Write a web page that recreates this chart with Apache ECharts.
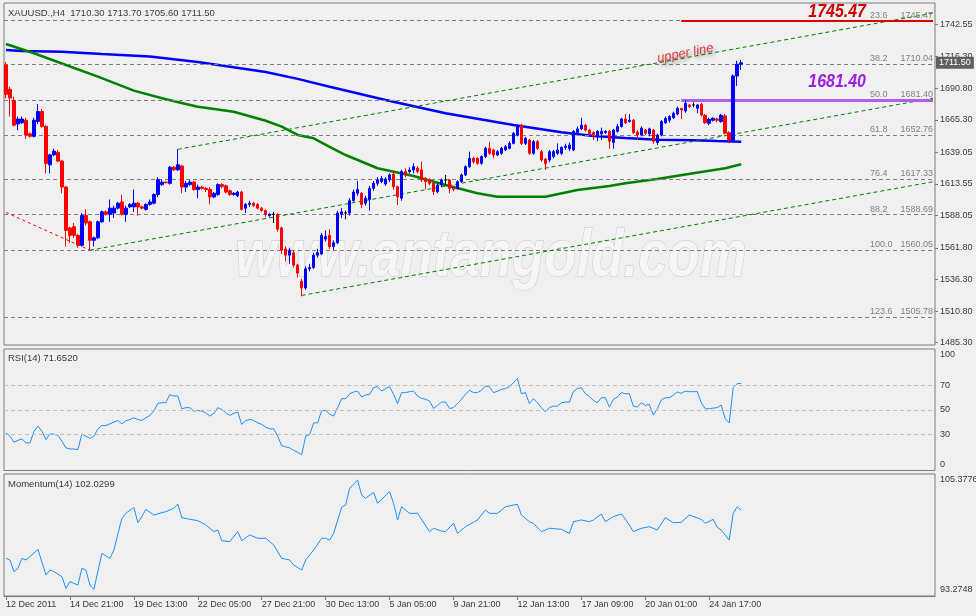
<!DOCTYPE html>
<html><head><meta charset="utf-8">
<script src="https://cdn.jsdelivr.net/npm/echarts@6/dist/echarts.min.js"></script>
<style>html,body{margin:0;padding:0;background:#f0f0f0;}#c{width:976px;height:616px;}</style>
</head><body><div id="c"></div>
<script>
// ---------- data ----------
const tickLabels = ['12 Dec 2011','14 Dec 21:00','19 Dec 13:00','22 Dec 05:00','27 Dec 21:00','30 Dec 13:00','5 Jan 05:00','9 Jan 21:00','12 Jan 13:00','17 Jan 09:00','20 Jan 01:00','24 Jan 17:00'];
const barsPerTick = 16;
const slotCount = 233; // H4 slots visible on the time axis (bars + empty right margin)

const opens = [1709.6,1690,1681,1662,1663,1665,1654,1652,1664,1672,1660,1629,1637,1639,1632,1611,1578,1579,1572,1564,1588,1583,1568,1570,1583,1591,1589,1590,1594,1599,1589,1595,1595,1598,1595,1593,1597,1598,1605,1613,1615,1614,1627,1625,1628,1611,1613,1615,1609,1611,1610,1609,1603,1605,1613,1612,1608,1605,1604,1607,1594,1597,1598,1597,1594,1592,1588,1589,1589,1578,1561,1556,1558,1548,1535,1529.5,1545,1546,1556,1557,1569,1572,1563,1566,1589,1590,1590,1600,1606,1606,1598,1601,1610,1614,1615.5,1613.5,1617,1621.5,1611.3,1602,1623.5,1623.4,1624.8,1626.2,1624.8,1618,1616.7,1614,1607.3,1612.7,1616.7,1616.7,1610.8,1610,1615.4,1620.8,1627.5,1634.2,1634.2,1630.2,1635.6,1642.3,1641,1636.9,1638.3,1641,1642.3,1646.3,1653,1661,1646.3,1649,1638.3,1647.7,1639.6,1633.5,1632.9,1635.6,1638.3,1638.3,1643,1642,1641,1655,1658,1661,1657,1655,1653,1654,1655,1656,1647,1656,1660,1666,1664,1665,1655.5,1653,1657,1654,1657,1647,1653,1663,1665,1667,1670,1674.6,1672.5,1677.3,1677.3,1674.6,1677.8,1669,1662.5,1665,1666,1664,1668.5,1655,1649,1700.7,1710.3];
const closes = [1686,1683,1661,1666,1666,1653,1652,1665,1672,1660,1630,1637,1640,1632,1611,1576,1572,1572,1564,1588,1582,1568,1570,1583,1591,1589,1594,1594,1598,1589,1594,1597,1598,1595,1594,1597,1599,1605,1617,1615,1614.5,1627,1625,1629,1611,1614,1615,1609,1611,1610,1609,1603,1606,1613,1611.5,1607,1605,1606,1607,1593,1597,1598,1596,1594,1592,1589,1589,1589,1577,1560,1556,1560,1548,1541.5,1529.5,1545,1546,1556,1558,1572,1571,1563,1566,1590,1591,1590,1600,1607,1609,1597,1602,1610,1614,1616.7,1618,1617.5,1620.8,1611.3,1603.2,1623.5,1620.8,1624.8,1627.5,1623.5,1616.7,1615.4,1614,1607.3,1612.7,1616.7,1616.7,1610,1609.2,1615.4,1620.8,1627.5,1634.2,1631.5,1630.2,1635.6,1642.3,1638.3,1636.9,1639.6,1642.3,1643.6,1646.3,1654.4,1659.8,1646.3,1650.4,1638.3,1647.7,1642.3,1632.9,1630,1639.6,1639.6,1641,1643,1644,1645,1656,1658,1661,1657,1654,1653,1656,1656,1656,1648,1657,1660,1666,1663,1665,1655,1653,1658.5,1654.5,1658,1648,1653,1664,1666.5,1668,1670.6,1674.6,1673.3,1678.7,1676,1677.3,1677.3,1669.2,1663,1665.7,1666.5,1665,1669,1654.5,1649,1700.7,1710.2,1711.5];
const lows = [1682.7,1668,1660,1657,1662,1650,1651,1651,1662,1659,1622,1622,1636,1631,1606,1563,1566,1570,1562,1563,1580,1560,1563,1569,1582,1588,1583,1586,1593,1588,1583,1594,1591,1588,1593,1592,1596,1597,1603,1612,1614,1613,1624,1624,1606,1607,1612,1608,1602,1609,1607,1597,1602,1604,1610,1606,1604,1604,1603,1592,1590,1595,1595,1593,1591,1587,1587,1582,1575,1557,1551,1549,1546,1538,1522.7,1528,1543,1545,1554,1556,1567,1561,1560,1565,1586,1585,1588,1599,1604,1594,1596,1592,1608,1612,1614,1612,1615,1609,1596.5,1600,1619,1622,1622,1622,1615,1609.2,1612.5,1604.6,1606,1611,1612.7,1606,1607.5,1609,1614.5,1620,1626.5,1630,1629,1629,1634.5,1637,1634.2,1636,1637,1640,1641.5,1645.5,1652,1645,1645,1637,1637,1641,1631.5,1624.8,1631,1634,1637,1637,1641,1640,1640,1654,1657,1656,1653,1649,1648,1649,1654,1642,1642,1655,1659,1662,1663,1654,1649,1652,1653,1652,1646,1645,1652,1662,1663,1666,1669,1666,1671,1675,1675.5,1670.6,1668,1662,1661,1664,1663.5,1663,1653.5,1646.5,1647.5,1692.7,1705.6];
const highs = [1712,1692,1684,1668,1668,1667,1655,1667,1678,1674,1661,1638,1642,1641,1633,1612,1579,1582,1573,1590,1593,1584,1571,1584,1592,1592,1601,1596,1599,1605,1596,1598,1609,1599,1596,1598,1601,1606,1619,1617,1615.5,1628,1628,1641.5,1629,1616,1617,1616,1613,1612,1611,1611,1607,1614,1614,1613,1609,1607,1608,1608,1598,1600,1599,1598,1595,1593,1590,1591,1590,1579,1563,1562,1560,1549,1537,1547,1549,1558,1561,1574,1576,1577,1568,1592,1594,1592,1602,1609,1616,1607,1604,1612,1616,1619,1620,1619,1622,1624,1612,1625,1626,1627,1630.2,1628,1631.5,1619,1618,1615,1614,1618,1620.8,1617.5,1612,1616.5,1622,1628.5,1639.6,1635.5,1635,1636.5,1643.5,1647.7,1642,1641,1643.5,1645,1648,1655.5,1661.2,1662,1651.5,1650,1649,1649,1641,1634.5,1641,1641,1646.3,1644,1646,1647,1657,1660,1667,1662,1658,1656,1657,1659,1657,1657,1658,1662,1667,1670,1670,1666,1657,1660,1658,1659,1658,1654,1665,1668,1669,1672,1676,1675,1681.3,1678,1679.5,1678,1679,1670,1667,1667.5,1667,1670,1670,1656,1702,1713,1713.7];

const maBlue = [[0,1721.7],[4,1720.9],[14,1720.4],[24,1718.5],[36,1716.5],[48,1712.0],[65,1704.0],[73,1698.4],[81,1692.1],[95,1681.4],[110,1670.6],[127,1661.2],[139,1655.2],[147,1652.3],[155,1650.6],[163,1649.3],[172,1648.8],[178,1648.2],[184,1647.7]];
const maGreen = [[0,1726.6],[7,1719.1],[15,1709.6],[23,1700.2],[32,1688.9],[40,1681.9],[48,1675.9],[57,1671.9],[65,1664.6],[69,1659.8],[73,1653.1],[77,1650.4],[81,1643.5],[85,1636.9],[93,1626.2],[102,1620.0],[110,1612.7],[118,1606.0],[123,1603.2],[135,1603.2],[143,1608.6],[151,1611.9],[155,1614.1],[163,1617.5],[172,1622.1],[180,1626.2],[184,1629.4]];

const rsi = [31.0,28.2,23.2,24.9,26.0,22.7,22.7,32.3,36.5,32.3,25.4,30.1,29.9,29.0,24.1,18.6,17.7,17.7,17.2,30.1,28.2,26.3,28.2,34.3,37.0,37.0,38.4,39.8,41.2,38.4,40.9,42.0,43.4,42.0,41.2,43.4,45.3,48.9,55.2,55.8,55.8,62.4,61.3,61.3,50.8,51.7,51.7,48.9,49.4,48.9,47.5,44.8,47.0,51.7,50.3,47.5,45.3,47.0,48.1,37.9,41.2,42.0,41.2,39.2,37.9,35.7,34.3,34.3,28.2,20.5,19.4,18.6,16.6,15.0,13.0,28.2,29.6,39.2,39.2,49.3,49.4,46.4,44.8,51.7,59.1,59.1,63.2,64.6,65.4,60.5,62.1,62.7,68.2,69.0,65.4,67.4,69.0,62.7,55.0,64.1,64.1,64.9,65.4,61.3,59.4,58.6,57.2,51.1,53.6,56.3,56.3,51.1,51.7,55.2,58.6,62.7,66.0,64.1,64.1,66.0,69.6,68.8,64.1,65.2,66.8,67.4,69.0,72.3,75.7,63.2,64.1,55.0,59.1,55.8,51.7,48.3,51.7,53.0,53.0,55.8,56.3,56.3,64.9,67.4,68.2,63.2,60.8,57.7,55.8,59.9,59.9,52.2,58.6,60.5,64.1,63.2,63.2,53.0,52.2,55.8,53.6,54.4,45.6,50.8,58.0,59.9,59.9,61.9,64.6,63.5,65.4,64.9,64.9,64.9,55.8,50.8,50.8,51.4,51.7,53.9,42.6,39.2,68.2,71.5,71.652];

const momentum = [[0,96.70],[1,96.52],[2,95.23],[3,95.60],[4,96.70],[5,96.52],[6,96.89],[8,97.70],[10,94.86],[11,95.41],[12,95.23],[14,94.67],[15,93.38],[16,94.12],[18,93.75],[19,95.60],[20,95.41],[21,93.75],[22,93.27],[24,97.26],[26,96.70],[27,97.63],[29,101.13],[30,101.69],[32,102.35],[33,100.65],[34,101.32],[35,102.13],[37,101.50],[39,101.76],[40,101.87],[42,102.24],[43,102.72],[44,101.21],[46,101.02],[48,100.88],[50,100.40],[52,99.66],[53,99.84],[54,98.66],[56,98.55],[58,99.66],[59,98.66],[61,99.29],[63,98.92],[65,98.92],[67,98.18],[69,96.70],[71,96.52],[72,95.97],[74,95.41],[75,96.52],[77,97.63],[79,98.92],[80,98.92],[81,98.73],[82,99.47],[84,102.35],[85,102.61],[86,104.45],[88,105.38],[89,103.72],[90,103.35],[92,104.01],[93,102.79],[96,104.09],[97,102.79],[98,100.95],[99,102.42],[101,101.69],[103,101.69],[106,99.66],[107,100.03],[109,99.73],[110,99.66],[112,100.58],[113,99.47],[115,100.21],[118,100.95],[120,102.06],[121,101.69],[123,101.69],[125,102.42],[127,102.61],[128,102.68],[129,101.50],[131,100.76],[132,100.58],[134,99.66],[136,100.03],[139,99.92],[141,99.47],[142,100.76],[144,100.95],[146,100.76],[147,100.95],[149,101.61],[150,100.76],[152,101.32],[154,101.61],[156,100.40],[157,99.66],[159,100.03],[161,100.21],[163,99.84],[165,101.21],[167,100.65],[169,100.69],[171,101.50],[174,101.02],[175,100.58],[177,101.02],[178,100.14],[179,99.84],[181,98.73],[182,101.69],[183,102.42],[184,102.03]];

const priceTicks = [1485.30,1510.80,1536.30,1561.80,1588.05,1613.55,1639.05,1665.30,1690.80,1716.30,1742.55];
const rsiTicks = [0,30,50,70,100];
const rsiLevels = [30,50,70];
const momTicks = [93.2748,105.3776];
const fibPct = ['23.6','38.2','50.0','61.8','76.4','88.2','100.0','123.6'];
const fibVal = [1745.47,1710.04,1681.40,1652.76,1617.33,1588.69,1560.05,1505.78];
const channelLines = [[43,1641.5,232,1751.5],[21,1560.0,232,1682.8],[74,1523.5,232,1615.3]];
const fibTrend = [0,1590.5,21,1560.0];
const redLevel = [169,232,1745.47];
const purpleLevel = [169,232,1681.40];
const levelLabelBar = 208;
const upperLineNote = {text: 'upper line', bar: 170, price: 1719.0};
const lastPrice = 1711.50;
const header = 'XAUUSD.,H4  1710.30 1713.70 1705.60 1711.50';
const rsiTitle = 'RSI(14) 71.6520';
const momTitle = 'Momentum(14) 102.0299';

// ---------- chart ----------
const cats = Array.from({length: slotCount}, (_, i) => String(i));
const candles = opens.map((o, i) => [o, closes[i], lows[i], highs[i]]);
const FONT = 'Liberation Sans';
const axisTxt = {fontFamily: FONT, fontSize: 9, color: '#3a3a3a'};
const border = '#7a7a7a';

function gridCfg(top, height) {
  return {left: 4, top: top, width: 931, height: height, show: true, borderColor: border, borderWidth: 1,
          backgroundColor: 'transparent', containLabel: false, outerBoundsMode: 'none'};
}
function xCfg(g, showLabels) {
  return {type: 'category', gridIndex: g, data: cats, boundaryGap: true,
    axisLine: {show: showLabels, lineStyle: {color: border}},
    axisTick: {show: showLabels, length: 4, alignWithLabel: true, lineStyle: {color: border},
               interval: (idx) => idx % barsPerTick === 0 && idx / barsPerTick < tickLabels.length},
    axisLabel: {show: showLabels, interval: barsPerTick - 1, align: 'left', margin: 4, ...axisTxt,
                formatter: (v, idx) => tickLabels[idx / barsPerTick] || ''},
    splitLine: {show: false}};
}

const fibMarks = fibVal.map((v, k) => ({
  yAxis: v,
  lineStyle: {color: '#808080', type: [4, 3], width: 1},
  label: {show: true, position: 'insideEndTop', distance: [2, 1],
          formatter: () => '{p|' + fibPct[k] + '}{v|' + v.toFixed(2) + '}',
          rich: {p: {width: 25, align: 'left', ...axisTxt, color: '#808080'},
                 v: {width: 38, align: 'right', ...axisTxt, color: '#808080'}}}
}));
const channelMarks = channelLines.map(l => [
  {coord: [l[0], l[1]], lineStyle: {color: '#008000', type: [4, 3], width: 1}},
  {coord: [l[2], l[3]]}
]);

const option = {
  animation: false,
  backgroundColor: '#f0f0f0',
  grid: [gridCfg(3, 342), gridCfg(349, 121.5), gridCfg(474, 122)],
  xAxis: [xCfg(0, false), xCfg(1, false), xCfg(2, true)],
  yAxis: [
    {type: 'value', gridIndex: 0, position: 'right', min: 1483.44, max: 1759.69,
     axisLine: {show: false}, splitLine: {show: false},
     axisTick: {show: true, length: 3, customValues: priceTicks, lineStyle: {color: border}},
     axisLabel: {customValues: priceTicks, formatter: v => v.toFixed(2), margin: 5, ...axisTxt}},
    {type: 'value', gridIndex: 1, position: 'right', min: 0, max: 100,
     axisLine: {show: false}, splitLine: {show: false}, axisTick: {show: false},
     axisLabel: {customValues: rsiTicks, margin: 5, ...axisTxt,
       formatter: v => v === 100 ? '{t|100}' : (v === 0 ? '{b|0}' : String(v)),
       rich: {t: {padding: [12, 0, 0, 0], ...axisTxt}, b: {padding: [0, 0, 12, 0], ...axisTxt}}}},
    {type: 'value', gridIndex: 2, position: 'right', min: 92.533, max: 106.042,
     axisLine: {show: false}, splitLine: {show: false}, axisTick: {show: false},
     axisLabel: {customValues: momTicks, formatter: v => v.toFixed(4), margin: 5, ...axisTxt}}
  ],
  graphic: [
    {type: 'text', z: 0, silent: true, x: 491, y: 258, scaleX: 0.8,
     style: {text: 'www.antangold.com', x: 0, y: 0, textAlign: 'center', textVerticalAlign: 'middle',
      font: 'italic bold 66px "Liberation Sans"', fill: '#f6f6f6', stroke: '#c4c4c4', lineWidth: 1,
      shadowBlur: 6, shadowColor: 'rgba(0,0,0,0.65)', shadowOffsetX: 4, shadowOffsetY: 5}},
    {type: 'text', z: 10, style: {text: header, x: 8, y: 13, textVerticalAlign: 'middle', font: '9.5px "Liberation Sans"', fill: '#3a3a3a'}},
    {type: 'text', z: 10, style: {text: rsiTitle, x: 8, y: 358, textVerticalAlign: 'middle', font: '9.5px "Liberation Sans"', fill: '#3a3a3a'}},
    {type: 'text', z: 10, style: {text: momTitle, x: 8, y: 484, textVerticalAlign: 'middle', font: '9.5px "Liberation Sans"', fill: '#3a3a3a'}}
  ],
  series: [
    {type: 'candlestick', xAxisIndex: 0, yAxisIndex: 0, data: candles, barWidth: 3, z: 5,
     itemStyle: {color: '#0000ff', color0: '#ff0000', borderColor: '#0000ff', borderColor0: '#ff0000', borderColorDoji: '#000000', borderWidth: 1}},
    {type: 'line', xAxisIndex: 0, yAxisIndex: 0, data: maBlue, showSymbol: false, z: 4,
     lineStyle: {color: '#0000ff', width: 2.5}},
    {type: 'line', xAxisIndex: 0, yAxisIndex: 0, data: maGreen, showSymbol: false, z: 4,
     lineStyle: {color: '#008000', width: 2.5}},
    {type: 'line', xAxisIndex: 0, yAxisIndex: 0, data: [], clip: false, z: 6,
     markLine: {silent: true, symbol: ['none', 'none'], label: {show: false},
       data: [
         ...fibMarks,
         ...channelMarks,
         [{coord: [fibTrend[0], fibTrend[1]], lineStyle: {color: '#ff0000', type: [3, 3], width: 1}}, {coord: [fibTrend[2], fibTrend[3]]}],
         [{coord: [redLevel[0], redLevel[2]], lineStyle: {color: '#dd0000', type: 'solid', width: 2}}, {coord: [redLevel[1], redLevel[2]]}],
         [{coord: [purpleLevel[0], purpleLevel[2]], lineStyle: {color: '#b35cf0', type: 'solid', width: 3}}, {coord: [purpleLevel[1], purpleLevel[2]]}],
         {yAxis: lastPrice, lineStyle: {color: 'rgba(0,0,0,0)', width: 1},
          label: {show: true, position: 'end', distance: 1, formatter: () => lastPrice.toFixed(2),
                  backgroundColor: '#606060', color: '#ffffff', padding: [2, 3, 1, 3], fontFamily: FONT, fontSize: 9}}
       ]},
     markPoint: {silent: true, symbol: 'rect', symbolSize: 0,
       data: [
         {coord: [upperLineNote.bar, upperLineNote.price], label: {show: true, formatter: () => upperLineNote.text, rotate: 11,
           color: '#e03a3a', fontFamily: FONT, fontStyle: 'italic', fontSize: 13,
           textShadowColor: 'rgba(0,0,0,0.4)', textShadowBlur: 4, textShadowOffsetX: 2, textShadowOffsetY: 3}}
       ]}},
    {type: 'line', xAxisIndex: 1, yAxisIndex: 1, data: rsi, showSymbol: false, z: 4,
     lineStyle: {color: '#1e90ff', width: 1},
     markLine: {silent: true, symbol: ['none', 'none'], label: {show: false},
       lineStyle: {color: '#c0c0c0', type: [4, 3], width: 1},
       data: rsiLevels.map(v => ({yAxis: v}))}},
    {type: 'line', xAxisIndex: 2, yAxisIndex: 2, data: momentum, showSymbol: false, z: 4,
     lineStyle: {color: '#1e90ff', width: 1}}
  ]
};
const chart = echarts.init(document.getElementById('c'), null, {renderer: 'canvas'});
chart.setOption(option);

// big level captions, positioned from their data values through the axes
function levelCaption(level, color, dy) {
  const pt = chart.convertToPixel({xAxisIndex: 0, yAxisIndex: 0}, [levelLabelBar, level[2]]);
  return {type: 'text', z: 20, silent: true, x: pt[0], y: pt[1] + dy, scaleX: 0.84,
    style: {text: level[2].toFixed(2), x: 0, y: 0, textAlign: 'center', textVerticalAlign: 'middle',
      font: 'italic bold 19px "Liberation Sans"', fill: color,
      shadowBlur: 5, shadowColor: 'rgba(0,0,0,0.45)', shadowOffsetX: 3, shadowOffsetY: 4}};
}
const g = option.graphic.slice();
g.push(levelCaption(redLevel, '#cc0000', -9));
g.push(levelCaption(purpleLevel, '#9b1fe0', -18));
chart.setOption({graphic: g});
</script></body></html>
